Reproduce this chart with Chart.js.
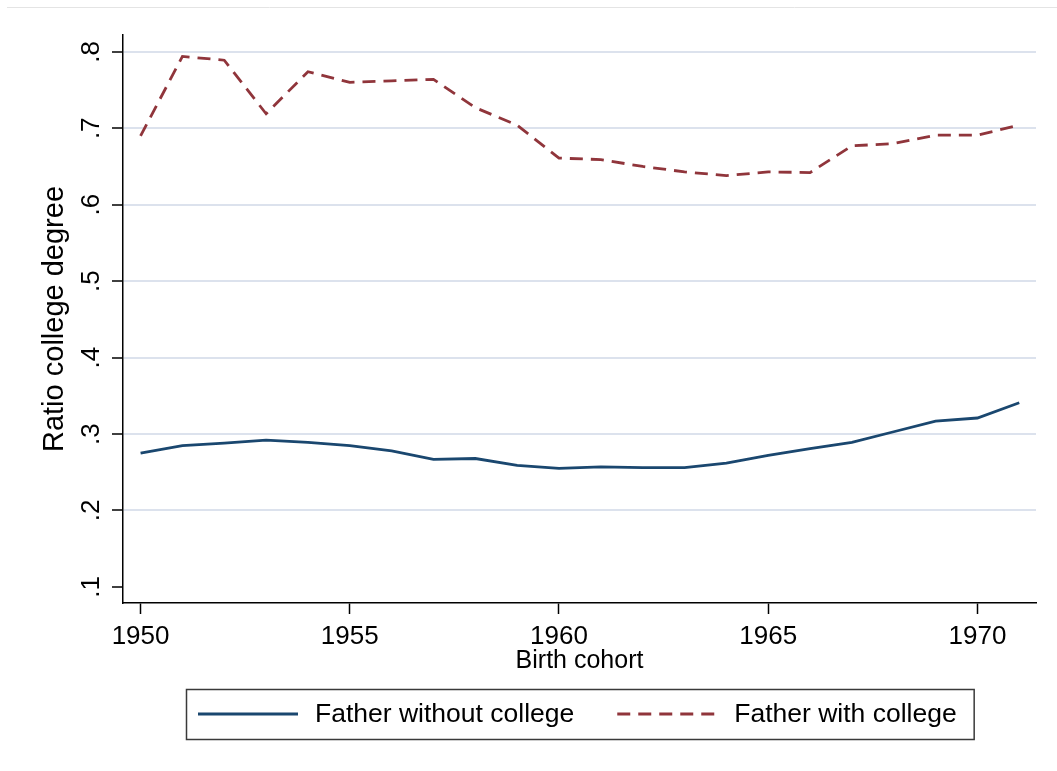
<!DOCTYPE html>
<html>
<head>
<meta charset="utf-8">
<script src="https://cdn.jsdelivr.net/npm/chart.js@4/dist/chart.umd.min.js"></script>
<style>
  html, body { margin: 0; padding: 0; background: #ffffff; }
  #wrap { width: 1057px; height: 771px; }
</style>
</head>
<body>
<div id="wrap"><canvas id="c" width="1057" height="771"></canvas></div>
<script>
// ---- data ----
const years = [1950, 1951, 1952, 1953, 1954, 1955, 1956, 1957, 1958, 1959, 1960,
               1961, 1962, 1963, 1964, 1965, 1966, 1967, 1968, 1969, 1970, 1971];
const fatherWithoutCollege = [0.275, 0.285, 0.288, 0.292, 0.289, 0.285, 0.278, 0.267, 0.268, 0.259, 0.255,
                              0.257, 0.256, 0.256, 0.262, 0.272, 0.281, 0.289, 0.303, 0.317, 0.321, 0.341];
const fatherWithCollege = [0.690, 0.794, 0.789, 0.719, 0.774, 0.760, 0.762, 0.764, 0.727, 0.704, 0.661,
                           0.659, 0.650, 0.643, 0.638, 0.643, 0.642, 0.677, 0.680, 0.691, 0.691, 0.704];
const seriesLabels = ['Father without college', 'Father with college'];
const xTickValues = [1950, 1955, 1960, 1965, 1970];
const xTickLabels = ['1950', '1955', '1960', '1965', '1970'];
const yTickValues = [0.1, 0.2, 0.3, 0.4, 0.5, 0.6, 0.7, 0.8];
const yTickLabels = ['.1', '.2', '.3', '.4', '.5', '.6', '.7', '.8'];
const xTitle = 'Birth cohort';
const yTitle = 'Ratio college degree';

// ---- styles ----
const FONT = '"Liberation Sans", Arial, Helvetica, sans-serif';
const BLUE = '#1a476f';
const RED = '#90353b';
const GRID = '#dce2ed';

const toPoints = vals => years.map((yr, i) => ({ x: yr, y: vals[i] }));

const frameLine = {
  id: 'frameLine',
  beforeDraw(chart) {
    const ctx = chart.ctx;
    ctx.save();
    ctx.fillStyle = '#ffffff';
    ctx.fillRect(0, 0, chart.width, chart.height);
    ctx.strokeStyle = '#e4e4e4';
    ctx.lineWidth = 1;
    ctx.beginPath();
    ctx.moveTo(7, 7.5);
    ctx.lineTo(chart.width, 7.5);
    ctx.stroke();
    ctx.restore();
  }
};

const boxedLegend = {
  id: 'boxedLegend',
  afterDraw(chart) {
    const { ctx, chartArea } = chart;
    ctx.save();
    ctx.font = '26.5px ' + FONT;
    const sample = 100, gapText = 17, gapItem = 43, padL = 12, padR = 17, h = 50;
    const items = chart.data.datasets.map(ds => ({ ds, w: ctx.measureText(ds.label).width }));
    let total = padL + padR + gapItem * (items.length - 1);
    items.forEach(it => { total += sample + gapText + it.w; });
    const cx = (chartArea.left + chartArea.right) / 2;
    const left = Math.round(cx - total / 2);
    const top = Math.round(chartArea.bottom + 86);
    ctx.strokeStyle = '#3a3a3a';
    ctx.lineWidth = 1.5;
    ctx.strokeRect(left + 0.5, top + 0.5, total, h);
    const yMid = top + h / 2;
    let x = left + padL;
    items.forEach(it => {
      ctx.beginPath();
      ctx.strokeStyle = it.ds.borderColor;
      ctx.lineWidth = it.ds.borderWidth;
      ctx.setLineDash(it.ds.borderDash || []);
      ctx.moveTo(x, yMid);
      ctx.lineTo(x + sample, yMid);
      ctx.stroke();
      ctx.setLineDash([]);
      x += sample + gapText;
      ctx.fillStyle = '#000000';
      ctx.textAlign = 'left';
      ctx.textBaseline = 'middle';
      ctx.fillText(it.ds.label, x, yMid + 1);
      x += it.w + gapItem;
    });
    ctx.restore();
  }
};

new Chart(document.getElementById('c'), {
  type: 'line',
  data: {
    datasets: [
      {
        label: seriesLabels[0],
        data: toPoints(fatherWithoutCollege),
        borderColor: BLUE,
        borderWidth: 2.8,
        pointRadius: 0,
        tension: 0,
        fill: false
      },
      {
        label: seriesLabels[1],
        data: toPoints(fatherWithCollege),
        borderColor: RED,
        borderWidth: 2.8,
        borderDash: [13, 8],
        pointRadius: 0,
        tension: 0,
        fill: false
      }
    ]
  },
  options: {
    responsive: false,
    devicePixelRatio: 1,
    animation: false,
    layout: { padding: { top: 35, right: 21, bottom: 0, left: 0 } },
    plugins: {
      legend: { display: false },
      tooltip: { enabled: false },
      title: { display: false }
    },
    scales: {
      x: {
        type: 'linear',
        min: 1949.58,
        max: 1971.4,
        afterFit: s => { s.height = 168; },
        afterBuildTicks: s => { s.ticks = xTickValues.map(v => ({ value: v })); },
        ticks: {
          autoSkip: false,
          maxRotation: 0,
          minRotation: 0,
          padding: 7,
          color: '#000000',
          font: { family: FONT, size: 26 },
          callback: v => xTickLabels[xTickValues.indexOf(v)]
        },
        grid: {
          drawOnChartArea: false,
          drawTicks: true,
          tickLength: 11,
          tickWidth: 1.5,
          tickColor: '#000000'
        },
        border: { display: true, color: '#000000', width: 1.5 },
        title: {
          display: true,
          text: xTitle,
          color: '#000000',
          font: { family: FONT, size: 25 },
          padding: { top: 0, bottom: 95 }
        }
      },
      y: {
        type: 'linear',
        min: 0.079,
        max: 0.822,
        afterFit: s => { s.width = 123; },
        afterBuildTicks: s => { s.ticks = yTickValues.map(v => ({ value: v })); },
        ticks: {
          autoSkip: false,
          minRotation: 90,
          maxRotation: 90,
          crossAlign: 'center',
          padding: 9,
          color: '#000000',
          font: { family: FONT, size: 26 },
          callback: v => yTickLabels[yTickValues.findIndex(t => Math.abs(t - v) < 1e-9)]
        },
        grid: {
          drawOnChartArea: true,
          drawTicks: true,
          tickLength: 11,
          lineWidth: 2,
          tickWidth: 1.5,
          tickColor: '#000000',
          color: c => (c.tick && Math.abs(c.tick.value - 0.1) < 1e-9) ? 'rgba(0,0,0,0)' : GRID
        },
        border: { display: true, color: '#000000', width: 1.5 },
        title: {
          display: true,
          text: yTitle,
          color: '#000000',
          font: { family: FONT, size: 29 },
          padding: { top: 38, bottom: 0 }
        }
      }
    }
  },
  plugins: [frameLine, boxedLegend]
});
</script>
</body>
</html>
